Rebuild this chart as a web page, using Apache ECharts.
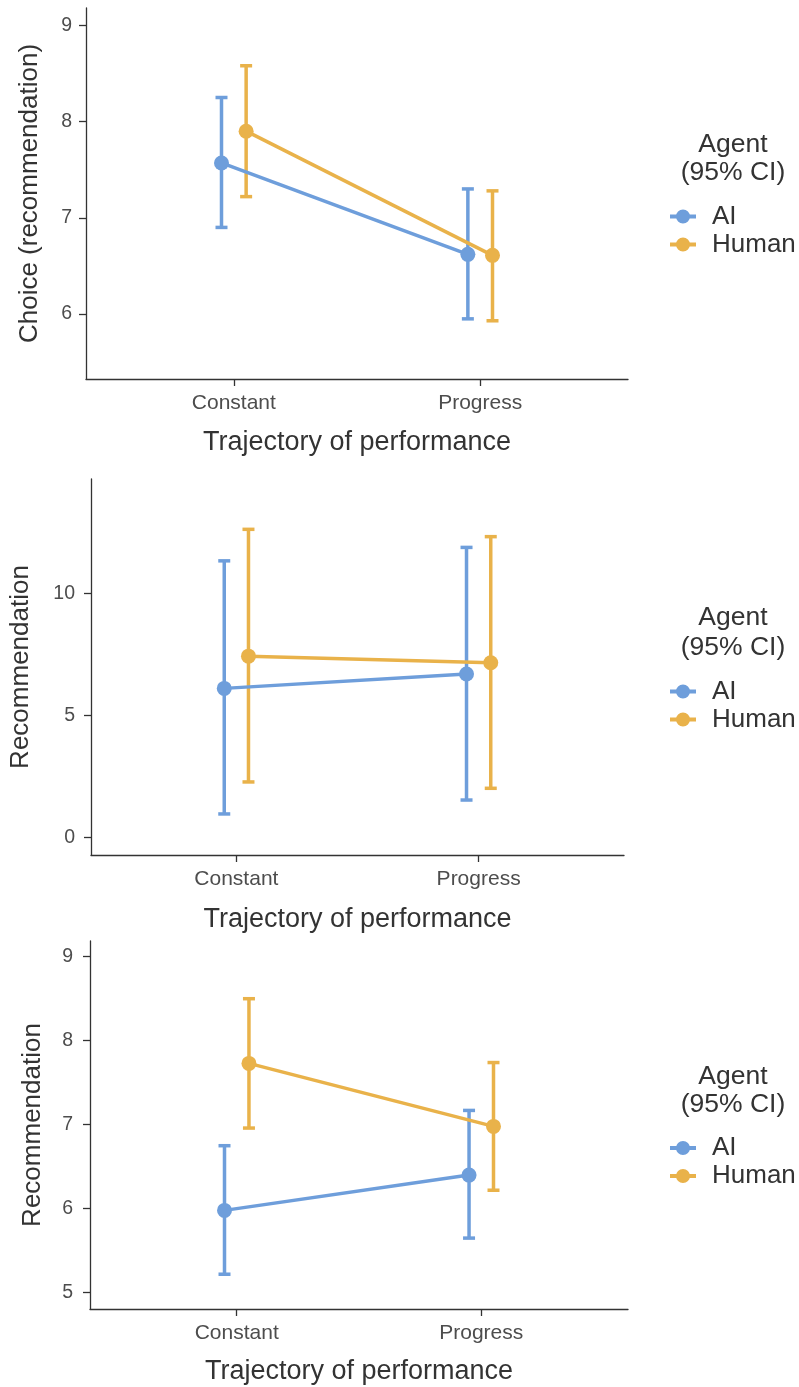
<!DOCTYPE html>
<html>
<head>
<meta charset="utf-8">
<script src="https://cdn.jsdelivr.net/npm/echarts@6/dist/echarts.min.js"></script>
<style>
  html, body { margin: 0; padding: 0; background: #ffffff; }
  #chart { width: 799px; height: 1387px; }
</style>
</head>
<body>
<div id="chart"></div>
<script>
// Trajectory categories and agent groups
const categories = ['Constant', 'Progress'];
const agents = ['AI', 'Human'];

// Panel 1: Choice (recommendation) — means and 95% CI bounds per trajectory
const p1AiMean = [7.57, 6.62];
const p1AiLow = [6.90, 5.95];
const p1AiHigh = [8.25, 7.30];
const p1HumanMean = [7.90, 6.61];
const p1HumanLow = [7.22, 5.93];
const p1HumanHigh = [8.58, 7.28];
const p1Ticks = [6, 7, 8, 9];

// Panel 2: Recommendation
const p2AiMean = [6.11, 6.70];
const p2AiLow = [0.97, 1.54];
const p2AiHigh = [11.33, 11.88];
const p2HumanMean = [7.43, 7.16];
const p2HumanLow = [2.28, 2.02];
const p2HumanHigh = [12.62, 12.32];
const p2Ticks = [0, 5, 10];

// Panel 3: Recommendation
const p3AiMean = [5.98, 6.40];
const p3AiLow = [5.22, 5.65];
const p3AiHigh = [6.75, 7.17];
const p3HumanMean = [7.73, 6.98];
const p3HumanLow = [6.96, 6.22];
const p3HumanHigh = [8.50, 7.74];
const p3Ticks = [5, 6, 7, 8, 9];

const COLORS = { AI: '#6e9edb', Human: '#e9b24a' };
const DODGE = { AI: -0.05, Human: 0.05 };
const FONT = '"Liberation Sans", Arial, Helvetica, sans-serif';
const catPos = categories.map((c, i) => i + 1);

// Legend key: a short line crossed by a dot
const legendIcon = 'path://M0,12h26v4h-26z M20,14a7,7 0 1,1 -14,0a7,7 0 1,1 14,0z';

const panels = [
  {
    grid: { left: 86, right: 171, top: 8, height: 371 },
    yName: 'Choice (recommendation)', yNameGap: 43,
    yMin: 5.325, yMax: 9.18, ticks: p1Ticks, labelMargin: 14, xNameGap: 50,
    AI: [p1AiMean, p1AiLow, p1AiHigh], Human: [p1HumanMean, p1HumanLow, p1HumanHigh],
    legendTop: 198.5, titleY: [145, 173]
  },
  {
    grid: { left: 88, right: 175, top: 479, height: 376 },
    yName: 'Recommendation', yNameGap: 57,
    yMin: -0.71, yMax: 14.68, ticks: p2Ticks, labelMargin: 16, xNameGap: 51,
    AI: [p2AiMean, p2AiLow, p2AiHigh], Human: [p2HumanMean, p2HumanLow, p2HumanHigh],
    legendTop: 673.5, titleY: [618, 648]
  },
  {
    grid: { left: 90, right: 171, top: 941, height: 368 },
    yName: 'Recommendation', yNameGap: 44,
    yMin: 4.806, yMax: 9.187, ticks: p3Ticks, labelMargin: 17, xNameGap: 49,
    AI: [p3AiMean, p3AiLow, p3AiHigh], Human: [p3HumanMean, p3HumanLow, p3HumanHigh],
    legendTop: 1130, titleY: [1077, 1105]
  }
];

// Vertical CI bar with end caps
function errorBarItem(params, api) {
  const x = api.value(0);
  const top = api.coord([x, api.value(2)]);
  const bot = api.coord([x, api.value(1)]);
  const half = 6;
  const style = { stroke: api.visual('color'), lineWidth: 3.5, fill: null };
  return {
    type: 'group',
    children: [
      { type: 'line', shape: { x1: top[0], y1: top[1], x2: bot[0], y2: bot[1] }, style: style },
      { type: 'line', shape: { x1: top[0] - half, y1: top[1], x2: top[0] + half, y2: top[1] }, style: style },
      { type: 'line', shape: { x1: bot[0] - half, y1: bot[1], x2: bot[0] + half, y2: bot[1] }, style: style }
    ]
  };
}

const grids = [], xAxes = [], yAxes = [], series = [], legends = [], graphics = [];

panels.forEach((p, idx) => {
  grids.push(p.grid);
  xAxes.push({
    type: 'value', gridIndex: idx, min: 0.4, max: 2.6,
    name: 'Trajectory of performance', nameLocation: 'middle', nameGap: p.xNameGap,
    nameTextStyle: { fontFamily: FONT, fontSize: 27, color: '#333333' },
    splitLine: { show: false },
    axisLine: { show: true, onZero: false, lineStyle: { color: '#333333', width: 1.3 } },
    axisTick: { show: true, length: 7, customValues: catPos, lineStyle: { color: '#333333', width: 1.3 } },
    axisLabel: {
      customValues: catPos, margin: 14, fontFamily: FONT, fontSize: 21, color: '#4d4d4d',
      formatter: (v) => categories[Math.round(v) - 1] || ''
    }
  });
  yAxes.push({
    type: 'value', gridIndex: idx, min: p.yMin, max: p.yMax,
    name: p.yName, nameLocation: 'middle', nameGap: p.yNameGap, nameRotate: 90,
    nameTextStyle: { fontFamily: FONT, fontSize: 26, color: '#333333' },
    splitLine: { show: false },
    axisLine: { show: true, onZero: false, lineStyle: { color: '#333333', width: 1.3 } },
    axisTick: { show: true, length: 7, customValues: p.ticks, lineStyle: { color: '#333333', width: 1.3 } },
    axisLabel: { customValues: p.ticks, margin: p.labelMargin, fontFamily: FONT, fontSize: 19.5, color: '#4d4d4d' }
  });

  agents.forEach((a) => {
    const [mean, low, high] = p[a];
    series.push({
      type: 'custom', name: a, xAxisIndex: idx, yAxisIndex: idx,
      renderItem: errorBarItem,
      itemStyle: { color: COLORS[a] },
      encode: { x: 0, y: [1, 2] },
      data: catPos.map((c, i) => [c + DODGE[a], low[i], high[i]]),
      z: 2
    });
    series.push({
      type: 'line', name: a, xAxisIndex: idx, yAxisIndex: idx,
      symbol: 'circle', symbolSize: 15,
      lineStyle: { color: COLORS[a], width: 3.5 },
      itemStyle: { color: COLORS[a] },
      data: catPos.map((c, i) => [c + DODGE[a], mean[i]]),
      z: 3
    });
  });

  legends.push({
    orient: 'vertical', left: 665, top: p.legendTop,
    itemWidth: 26, itemHeight: 14, itemGap: 2,
    data: agents.map((a) => ({ name: a, icon: legendIcon, itemStyle: { color: COLORS[a] } })),
    textStyle: { fontFamily: FONT, fontSize: 26, lineHeight: 26, color: '#333333', padding: [0, 0, 0, 11] },
    selectedMode: false
  });

  ['Agent', '(95% CI)'].forEach((t, k) => {
    graphics.push({
      type: 'text', x: 733, y: p.titleY[k],
      style: {
        text: t, fontFamily: FONT, fontSize: 26.5, fill: '#333333',
        textAlign: 'center', textVerticalAlign: 'middle', align: 'center', verticalAlign: 'middle'
      }
    });
  });
});

const chart = echarts.init(document.getElementById('chart'), null, { renderer: 'canvas' });
chart.setOption({
  animation: false,
  backgroundColor: '#ffffff',
  grid: grids,
  xAxis: xAxes,
  yAxis: yAxes,
  legend: legends,
  graphic: graphics,
  series: series
});
</script>
</body>
</html>
